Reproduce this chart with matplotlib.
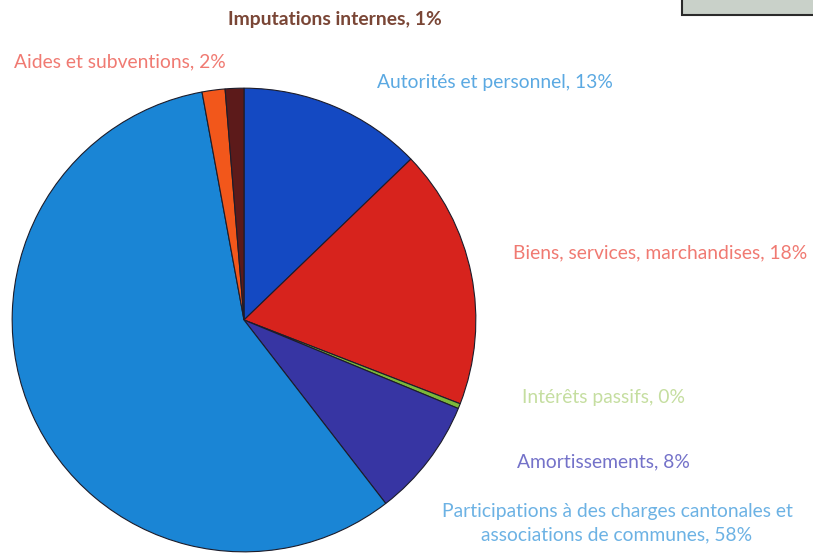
import numpy as np
import matplotlib
matplotlib.use("Agg")
from matplotlib import pyplot as plt
from matplotlib.patches import Rectangle

# slices, clockwise from the top
categories = ['Autorités et personnel', 'Biens, services, marchandises', 'Intérêts passifs',
              'Amortissements', 'Participations à des charges cantonales et\nassociations de communes',
              'Aides et subventions', 'Imputations internes']
shares = [12.8, 18.1, 0.35, 8.3, 57.6, 1.6, 1.3]
pct_labels = ['13%', '18%', '0%', '8%', '58%', '2%', '1%']

slice_colors = ['#1449c2', '#d7231d', '#7cb83a', '#3735a3', '#1a85d5', '#f2571b', '#5c1a1a']
label_colors = ['#5ba9e2', '#f07a72', '#c5dea0', '#7472c9', '#6cb2e4', '#f07a72', '#7a4636']

W, H = 813, 553
fig = plt.figure(figsize=(W / 100, H / 100), dpi=100)
plt.rcParams['font.family'] = ['Lato', 'DejaVu Sans']
FS = 13.9

# pie centre ~ (244, 320) px, radius ~233 px
cx, cy, r = 244, 320, 233
ax = fig.add_axes([(cx - r) / W, (H - cy - r) / H, 2 * r / W, 2 * r / H])
ax.pie(shares, colors=slice_colors, startangle=90, counterclock=False,
       wedgeprops=dict(edgecolor='#1c1c2a', linewidth=0.8))
ax.set_xlim(-1.005, 1.005)
ax.set_ylim(-1.005, 1.005)
ax.set_aspect('equal')
ax.axis('off')


def px_text(x, y, s, color, ha='left', **kw):
    fig.text(x / W, 1 - y / H, s, color=color, ha=ha, va='center', fontsize=FS, **kw)


px_text(335, 20, categories[6] + ', ' + pct_labels[6], label_colors[6], ha='center', fontweight='bold')
px_text(14, 62, categories[5] + ', ' + pct_labels[5], label_colors[5])
px_text(377, 82, categories[0] + ', ' + pct_labels[0], label_colors[0])
px_text(513, 253, categories[1] + ', ' + pct_labels[1], label_colors[1])
px_text(522, 398, categories[2] + ', ' + pct_labels[2], label_colors[2])
px_text(517, 462, categories[3] + ', ' + pct_labels[3], label_colors[3])
fig.text(617 / W, 1 - 523 / H, categories[4] + ', ' + pct_labels[4], color=label_colors[4],
         ha='center', va='center', fontsize=FS, linespacing=1.5)

# cut-off box in the top right corner
fig.patches.append(Rectangle((682 / W, 1 - 15 / H), 140 / W, 20 / H, transform=fig.transFigure,
                             facecolor='#c9d1c9', edgecolor='#2a2a2a', linewidth=1.5))

fig.savefig('out.png', dpi=100)
